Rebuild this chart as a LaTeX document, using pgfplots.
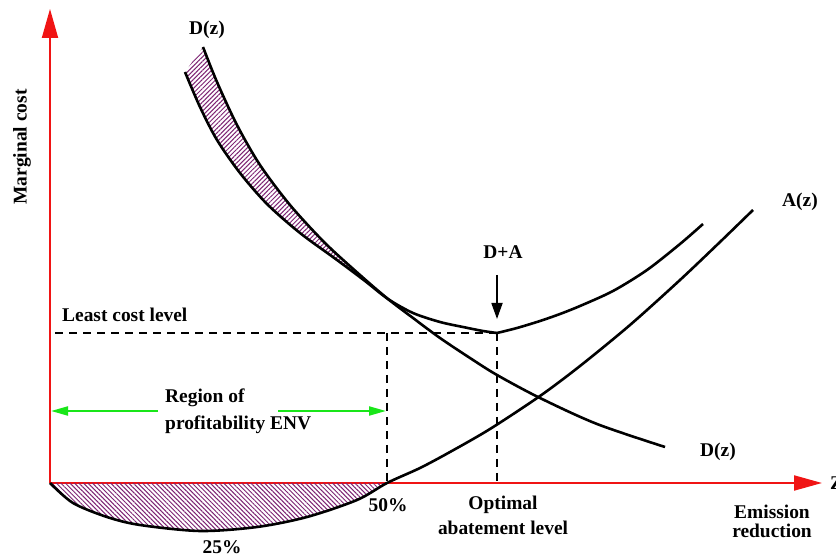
\documentclass[border=0pt]{standalone}
\usepackage{fontspec}
\setmainfont{Liberation Serif}
\usepackage{pgfplots}
\pgfplotsset{compat=1.18}
\usepgfplotslibrary{fillbetween}
\usetikzlibrary{arrows.meta, patterns.meta}

\definecolor{hatch}{RGB}{125,35,115}
\definecolor{axred}{RGB}{240,20,20}
\definecolor{arrgreen}{RGB}{25,230,25}

\begin{document}
\begin{tikzpicture}[lbl/.style={font=\fontsize{19.5}{22}\selectfont\bfseries, inner sep=0pt}]
\begin{axis}[width=836bp, height=558bp, scale only axis,
    xmin=-50, xmax=786, ymin=-75, ymax=483,
    hide axis, clip=false]

% axes
\draw[axred, line width=2bp, -{Triangle[length=29bp, width=16bp]}] (axis cs:0,0) -- (axis cs:0,474);
\draw[axred, line width=2bp, -{Triangle[length=28bp, width=15bp]}] (axis cs:0,0) -- (axis cs:772,0);

% hatched areas: D above D+A left of 50%, and A below the axis
\addplot[name path=Dtop, draw=none, smooth, forget plot] coordinates {
 (153,436) (167,401) (187,358) (210,318) (240,278) (275,240) (310,208) (338,184)};
\addplot[name path=DAtop, draw=none, smooth, forget plot] coordinates {
 (135,411) (150,376) (167,343) (190,310) (217,279) (250,250) (287,223) (315,202) (338,184)};
\addplot[draw=none, pattern={Lines[angle=45, distance=3.2bp, line width=1bp]}, pattern color=hatch]
  fill between[of=DAtop and Dtop];
\addplot[draw=none, smooth, pattern={Lines[angle=-45, distance=3.2bp, line width=1bp]}, pattern color=hatch]
  coordinates {(0,0) (23,-20) (57,-34) (90,-42) (150,-48) (207,-44) (257,-34) (307,-17) (337,0)} -- cycle;

% D(z)
\addplot[black, line width=2.6bp, smooth] coordinates {
 (153,436) (167,401) (187,358) (210,318) (240,278) (275,240) (310,208)
 (338,184) (363,165) (390,145) (420,125) (447,108) (490,85) (547,59) (615,36)};
% D+A, left and right of the minimum
\addplot[black, line width=2.6bp, smooth] coordinates {
 (135,411) (150,376) (167,343) (190,310) (217,279) (250,250) (287,223)
 (315,202) (338,184) (363,170) (390,161) (413,156) (433,152) (447,150)};
\addplot[black, line width=2.6bp, smooth] coordinates {
 (447,150) (467,155) (490,162) (510,169) (530,177) (563,192) (597,213) (630,239) (653,259)};
% A(z)
\addplot[black, line width=2.6bp, smooth] coordinates {
 (0,0) (23,-20) (57,-34) (90,-42) (150,-48) (207,-44) (257,-34) (307,-17)
 (337,0) (370,15) (400,31) (440,54) (490,87) (530,117) (580,158) (630,203)
 (670,241) (703,273)};

% dashed guides
\draw[black, line width=1.5bp, dash pattern=on 8bp off 6bp] (axis cs:5,150) -- (axis cs:447,150);
\draw[black, line width=1.5bp, dash pattern=on 8bp off 6bp] (axis cs:337,150) -- (axis cs:337,0);
\draw[black, line width=1.5bp, dash pattern=on 8bp off 6bp] (axis cs:447,150) -- (axis cs:447,0);

% arrows
\draw[black, line width=1.8bp, -{Triangle[length=16bp, width=11bp]}] (axis cs:447,208) -- (axis cs:447,164);
\draw[arrgreen, line width=2bp, -{Triangle[length=17bp, width=9bp]}] (axis cs:108,72) -- (axis cs:1,72);
\draw[arrgreen, line width=2bp, -{Triangle[length=17bp, width=9bp]}] (axis cs:228,72) -- (axis cs:336,72);

% labels
\node[lbl] at (axis cs:157,453) {D(z)};
\node[lbl, rotate=90] at (axis cs:-28,336) {Marginal cost};
\node[lbl] at (axis cs:750,281) {A(z)};
\node[lbl] at (axis cs:453,231) {D+A};
\node[lbl, anchor=west] at (axis cs:12,168) {Least cost level};
\node[lbl, anchor=west] at (axis cs:115,85) {Region of};
\node[lbl, anchor=west] at (axis cs:115,58) {profitability ENV};
\node[lbl] at (axis cs:338,-22) {50\%};
\node[lbl] at (axis cs:172,-64) {25\%};
\node[lbl] at (axis cs:453,-22) {Optimal};
\node[lbl] at (axis cs:453,-45) {abatement level};
\node[lbl] at (axis cs:668,31) {D(z)};
\node[lbl] at (axis cs:722,-29) {Emission};
\node[lbl] at (axis cs:722,-48) {reduction};
\node[lbl, anchor=west] at (axis cs:780,0) {Z};
\end{axis}
\pgfresetboundingbox
\useasboundingbox (current axis.south west) rectangle (current axis.north east);
\end{tikzpicture}
\end{document}
